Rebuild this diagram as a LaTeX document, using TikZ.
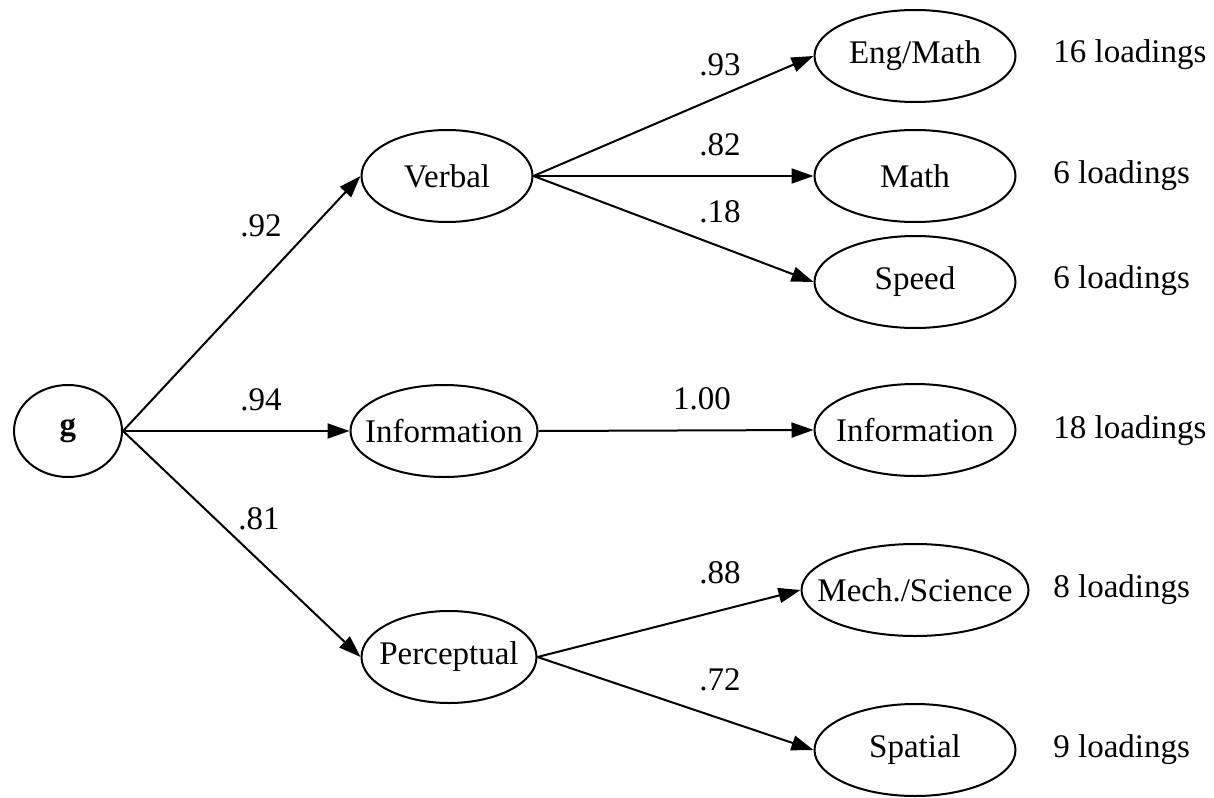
\documentclass[tikz,border=0pt]{standalone}
\usepackage{fontspec}
\setmainfont{Liberation Serif}
\usetikzlibrary{arrows.meta,shapes.geometric}

\begin{document}
\begin{tikzpicture}[x=0.5pt,y=-0.5pt,
  font=\fontsize{16.5}{19}\selectfont,
  factor/.style={ellipse,draw,line width=1pt,inner sep=0pt,minimum height=46pt,
    execute at begin node={\hbox to 0pt\bgroup\hss},
    execute at end node={\hss\egroup}},
  link/.style={line width=1pt,-{Triangle[length=11pt,width=7.5pt]}},
  weight/.style={inner sep=0pt},
  count/.style={anchor=base west,inner sep=0pt}]
\useasboundingbox (0,0) rectangle (1214,797);
% general factor
\node[factor,minimum width=54pt] (g) at (68,431) {\textbf{g}};
% second order factors
\node[factor,minimum width=85.5pt] (verbal) at (447,176) {Verbal};
\node[factor,minimum width=93.5pt] (info) at (444,431) {Information};
\node[factor,minimum width=87.5pt] (percept) at (449,657) {Perceptual};
% first order factors
\node[factor,minimum width=100.5pt] (engmath) at (915,56) {Eng/Math};
\node[factor,minimum width=100.5pt] (math) at (915,176) {Math};
\node[factor,minimum width=100.5pt] (speed) at (915,282) {Speed};
\node[factor,minimum width=100.5pt] (infotests) at (915,430) {Information};
\node[factor,minimum width=113.5pt] (mech) at (915,590) {Mech./Science};
\node[factor,minimum width=100.5pt] (spatial) at (915,750) {Spatial};
% loadings
\node[count] (nengmath) at (1053,63) {16 loadings};
\node[count] (nmath) at (1053,183) {6 loadings};
\node[count] (nspeed) at (1053,288) {6 loadings};
\node[count] (ninfo) at (1053,438) {18 loadings};
\node[count] (nmech) at (1053,597) {8 loadings};
\node[count] (nspatial) at (1053,757) {9 loadings};
% paths
\draw[link] (g.east) -- (verbal.west);
\draw[link] (g.east) -- (info.west);
\draw[link] (g.east) -- (percept.west);
\draw[link] (verbal.east) -- (engmath.west);
\draw[link] (verbal.east) -- (math.west);
\draw[link] (verbal.east) -- (speed.west);
\draw[link] (info.east) -- (infotests.west);
\draw[link] (percept.east) -- (mech.west);
\draw[link] (percept.east) -- (spatial.west);
\node[weight] (w92) at (261,226) {.92};
\node[weight] (w94) at (261,400) {.94};
\node[weight] (w81) at (259,519) {.81};
\node[weight] (w93) at (720,65) {.93};
\node[weight] (w82) at (720,145) {.82};
\node[weight] (w18) at (720,212) {.18};
\node[weight] (w100) at (702,399) {1.00};
\node[weight] (w88) at (720,573) {.88};
\node[weight] (w72) at (720,680) {.72};
\end{tikzpicture}
\end{document}
